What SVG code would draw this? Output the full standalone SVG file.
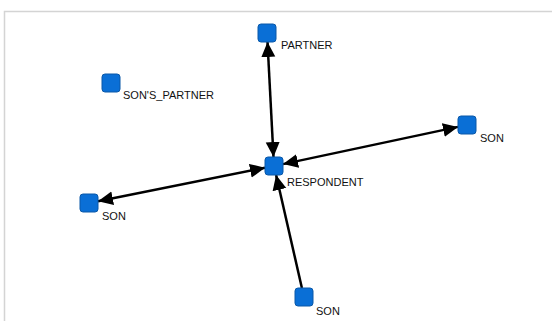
<svg xmlns="http://www.w3.org/2000/svg" width="552" height="321" viewBox="0 0 552 321">
<style>
.node{fill:#0a6fd6;stroke:#0a58a8;stroke-width:1}
.lbl{font-family:"Liberation Sans",Arial,sans-serif;font-size:11px;fill:#111}
.edge{stroke:#000;stroke-width:2.5;fill:none}
</style>
<defs>
<marker id="arr" markerUnits="userSpaceOnUse" markerWidth="17" markerHeight="15" refX="15" refY="7" orient="auto-start-reverse">
<path d="M0,0 L15,7 L0,14 z" fill="#000"/>
</marker>
</defs>
<rect x="0" y="0" width="552" height="321" fill="#fff"/>
<path d="M4.5,321 V11.5 H552" fill="none" stroke="#d4d4d4" stroke-width="1.5"/>
<g id="connectors">
<line class="edge" x1="267.5" y1="42" x2="273.5" y2="157" marker-start="url(#arr)" marker-end="url(#arr)"/>
<line class="edge" x1="283" y1="164.1" x2="458" y2="126.9" marker-start="url(#arr)" marker-end="url(#arr)"/>
<line class="edge" x1="265" y1="167.8" x2="98" y2="201.2" marker-start="url(#arr)" marker-end="url(#arr)"/>
<line class="edge" x1="301.9" y1="288" x2="276.1" y2="175" marker-end="url(#arr)"/>
</g>
<g id="partner">
<rect class="node" x="258" y="24" width="18" height="18" rx="3"/>
<text class="lbl" x="281" y="49">PARTNER</text>
</g>
<g id="sons_partner">
<rect class="node" x="102" y="74" width="18" height="18" rx="3"/>
<text class="lbl" x="123" y="99">SON'S_PARTNER</text>
</g>
<g id="respondent">
<rect class="node" x="265" y="157" width="18" height="18" rx="3"/>
<text class="lbl" x="287" y="186">RESPONDENT</text>
</g>
<g id="son_left">
<rect class="node" x="80" y="194" width="18" height="18" rx="3"/>
<text class="lbl" x="102" y="220">SON</text>
</g>
<g id="son_right">
<rect class="node" x="458" y="116" width="18" height="18" rx="3"/>
<text class="lbl" x="480" y="142">SON</text>
</g>
<g id="son_bottom">
<rect class="node" x="295" y="288" width="18" height="18" rx="3"/>
<text class="lbl" x="316" y="315">SON</text>
</g>
</svg>
